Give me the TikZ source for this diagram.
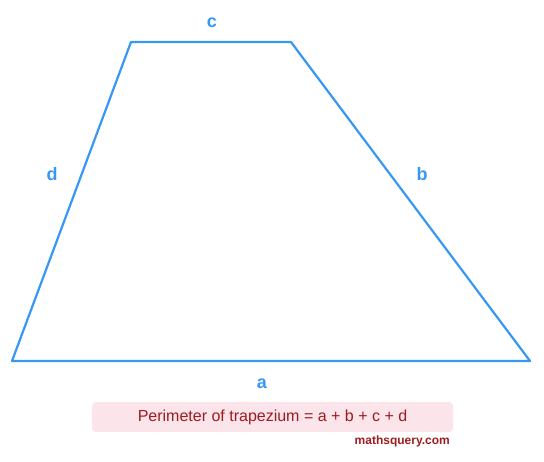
\documentclass[tikz,border=0pt]{standalone}
\usepackage{fontspec}
\setmainfont{Liberation Sans}
\definecolor{lineblue}{HTML}{3797F5}
\definecolor{boxpink}{HTML}{FBE4EA}
\definecolor{darkred}{HTML}{9E1B1F}
\begin{document}
\begin{tikzpicture}[x=1pt,y=-1pt,
  side/.style={draw=lineblue,line width=2.2pt,line join=round},
  lbl/.style={text=lineblue,font=\fontsize{18}{20}\selectfont\bfseries,inner sep=0pt},
  formula/.style={fill=boxpink,rounded corners=4pt,minimum width=361pt,minimum height=30pt,text=darkred,font=\fontsize{16}{18}\selectfont,inner sep=0pt},
  credit/.style={text=darkred,font=\fontsize{12}{14}\selectfont\bfseries,inner sep=0pt}]
\useasboundingbox (0,0) rectangle (544,462);
\coordinate (A) at (12,361);
\coordinate (D) at (131,42);
\coordinate (C) at (291,42);
\coordinate (B) at (530,361);
\draw[side] (A) -- (D) -- (C) -- (B) -- cycle;
\node[lbl] (lc) at (212,23) {c};
\node[lbl] (ld) at (52,174) {d};
\node[lbl] (lb) at (422,174) {b};
\node[lbl] (la) at (262,384) {a};
\node[formula] (f) at (272.5,417) {Perimeter of trapezium = a + b + c + d};
\node[credit,anchor=east] (m) at (450,441) {mathsquery.com};
\end{tikzpicture}
\end{document}
